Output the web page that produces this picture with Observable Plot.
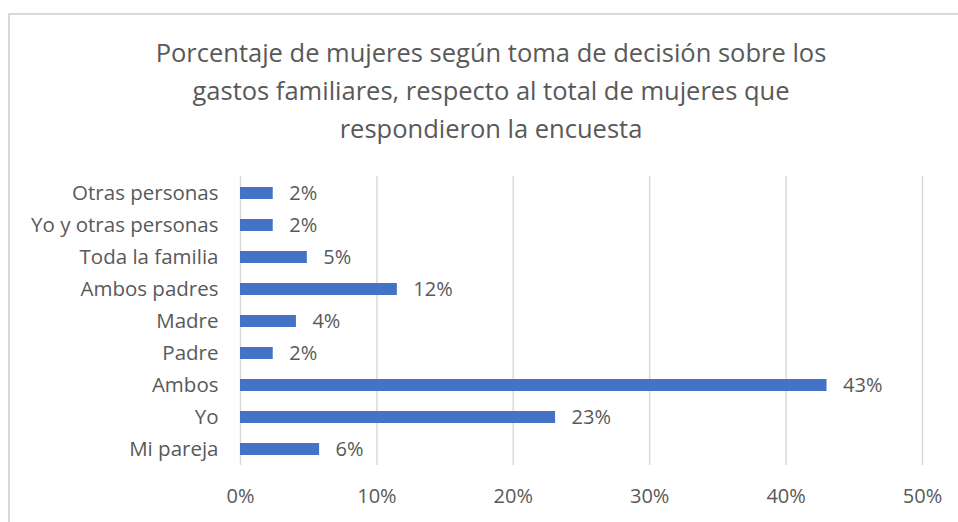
<!DOCTYPE html>
<html>
<head>
<meta charset="utf-8">
<script src="https://cdn.jsdelivr.net/npm/d3@7"></script>
<script src="https://cdn.jsdelivr.net/npm/@observablehq/plot@0.6"></script>
<style>
  html, body { margin: 0; padding: 0; background: #fff; }
  #wrap { position: relative; width: 958px; height: 522px; overflow: hidden; font-family: "Open Sans", "Noto Sans", sans-serif; }
  #frame { position: absolute; left: 8px; top: 13px; width: 1000px; height: 600px; border: 2px solid #d9d9d9; box-sizing: border-box; pointer-events: none; }
  #title { position: relative; width: 982px; height: 150px; padding-top: 33px; box-sizing: border-box; text-align: center; color: #595959; font-size: 25.5px; line-height: 38px; }
  #chart svg { display: block; }
</style>
</head>
<body>
<div id="wrap">
  <div id="frame"></div>
  <div id="title">Porcentaje de mujeres según toma de decisión sobre los<br>gastos familiares, respecto al total de mujeres que<br>respondieron la encuesta</div>
  <div id="chart"></div>
</div>
<script>
const categories = ["Otras personas", "Yo y otras personas", "Toda la familia", "Ambos padres", "Madre", "Padre", "Ambos", "Yo", "Mi pareja"];
const values = [0.024, 0.024, 0.049, 0.115, 0.041, 0.024, 0.430, 0.231, 0.058];
const xTicks = [0, 0.1, 0.2, 0.3, 0.4, 0.5];

const data = categories.map((c, i) => ({category: c, value: values[i]}));
const fmt = d3.format(".0%");

const plot = Plot.plot({
  width: 958,
  height: 372,
  marginTop: 26,
  marginBottom: 57,
  marginLeft: 240,
  marginRight: 36,
  style: {fontFamily: "'Open Sans', 'Noto Sans', sans-serif", fontSize: "20px", color: "#595959", background: "transparent", overflow: "visible"},
  x: {domain: [0, 0.5], ticks: xTicks, tickFormat: fmt, label: null},
  y: {domain: categories, paddingInner: 0.635, paddingOuter: 0.3175, label: null},
  marks: [
    Plot.gridX(xTicks, {stroke: "#d9d9d9", strokeOpacity: 1, strokeWidth: 1.5}),
    Plot.barX(data, {x: "value", y: "category", fill: "#4472C4"}),
    Plot.text(data, {x: "value", y: "category", text: d => fmt(d.value), textAnchor: "start", dx: 16, fill: "#595959", fontSize: 20}),
    Plot.axisX({ticks: xTicks, tickFormat: fmt, tickSize: 0, tickPadding: 23, fontSize: 20, fill: "#595959", label: null}),
    Plot.axisY({tickSize: 0, tickPadding: 22, fontSize: 20.5, fill: "#595959", label: null})
  ]
});
document.getElementById("chart").appendChild(plot);
</script>
</body>
</html>
